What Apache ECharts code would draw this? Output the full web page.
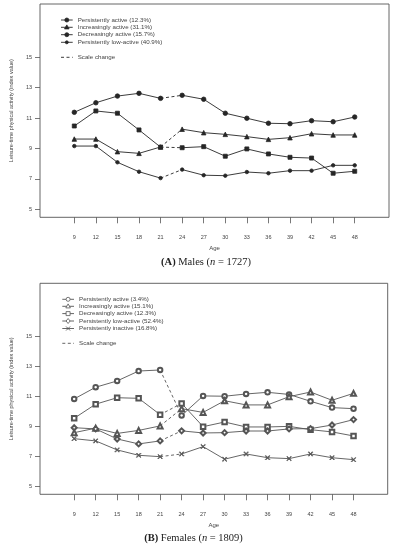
<!DOCTYPE html>
<html><head><meta charset="utf-8">
<script src="https://cdn.jsdelivr.net/npm/echarts@6/dist/echarts.min.js"></script>
<style>html,body{margin:0;padding:0;background:#fff}#c{width:395px;height:550px}</style>
</head><body><div id="c"></div>
<script>
const ages = [9,12,15,18,21,24,27,30,33,36,39,42,45,48];
const yTicks = [5,7,9,11,13,15];

const maleNames = ['Persistently active (12.3%)','Increasingly active (31.1%)','Decreasingly active (15.7%)','Persistently low-active (40.9%)'];
const malePersActive = [11.38,12.01,12.45,12.63,12.30,12.50,12.24,11.32,10.99,10.66,10.63,10.83,10.76,11.07];
const maleIncActive  = [9.62,9.62,8.79,8.68,9.10,10.27,10.04,9.93,9.78,9.60,9.71,9.97,9.89,9.89];
const maleDecActive  = [10.48,11.47,11.32,10.22,9.09,9.05,9.12,8.49,8.97,8.64,8.42,8.37,7.37,7.50];
const maleLowActive  = [9.16,9.16,8.09,7.47,7.05,7.61,7.24,7.21,7.45,7.37,7.54,7.54,7.89,7.89];

const femaleNames = ['Persistently active (3.4%)','Increasingly active (15.1%)','Decreasingly active (12.3%)','Persistently low-active (52.4%)','Persistently inactive (16.8%)'];
const femPersActive = [10.85,11.63,12.05,12.71,12.78,9.75,11.05,11.03,11.18,11.29,11.15,10.69,10.27,10.20];
const femIncActive  = [8.60,8.90,8.55,8.75,9.05,10.20,9.95,10.73,10.45,10.45,11.00,11.31,10.76,11.22];
const femDecActive  = [9.56,10.50,10.93,10.89,9.80,10.55,9.00,9.31,8.98,8.98,9.02,8.80,8.65,8.38];
const femLowActive  = [8.93,8.85,8.18,7.85,8.05,8.72,8.58,8.60,8.71,8.71,8.85,8.87,9.11,9.47];
const femInactive   = [8.20,8.05,7.45,7.09,7.00,7.18,7.67,6.83,7.18,6.93,6.87,7.18,6.93,6.80];

const xSym = 'path://M0,1L1,0L5,4L9,0L10,1L6,5L10,9L9,10L5,6L1,10L0,9L4,5Z';

const chart = echarts.init(document.getElementById('c'), null, {renderer:'canvas'});

function makeSeries(gi, name, vals, symbol, size, color, lw) {
  const pts = ages.map((a,i)=>[a, vals[i]]);
  const base = {type:'line', xAxisIndex:gi, yAxisIndex:gi, animation:false, silent:true,
    lineStyle:{color:color, width:lw}, itemStyle:{color:color, borderColor:color, borderWidth:0.8}};
  return [
    Object.assign({}, base, {name:name, data:pts.slice(0,5), symbol:symbol, symbolSize:size}),
    Object.assign({}, base, {name:name+' (scale change)', data:pts.slice(4,6), symbol:'none',
      lineStyle:{color:color, width:lw, type:[3,2.5]}}),
    Object.assign({}, base, {name:name, data:pts.slice(5), symbol:symbol, symbolSize:size})
  ];
}

const mColor = '#262626';
const fColor = '#555';
const maleSpecs = [[malePersActive,'circle',4.5],[maleIncActive,'triangle',4.5],[maleDecActive,'rect',4],[maleLowActive,'circle',3.5]];
const femSpecs = [[femPersActive,'emptyCircle',4.5],[femIncActive,'emptyTriangle',5],[femDecActive,'emptyRect',4.5],[femLowActive,'emptyDiamond',5],[femInactive,xSym,4.5]];

let series = [];
maleSpecs.forEach((s,i)=>{ series = series.concat(makeSeries(0, maleNames[i], s[0], s[1], s[2], mColor, 0.9)); });
femSpecs.forEach((s,i)=>{ series = series.concat(makeSeries(1, femaleNames[i], s[0], s[1], s[2], fColor, 0.9)); });

const labelFont = {fontFamily:'Liberation Sans, Arial, sans-serif', fontSize:5.5, color:'#444'};

function xAxis(gi){
  return {type:'value', gridIndex:gi, min:4.23, max:52.77, splitLine:{show:false},
    axisLine:{show:false}, axisTick:{show:true, length:6, customValues:ages, lineStyle:{color:'#555', width:0.8}},
    axisLabel:Object.assign({customValues:ages, margin:17}, labelFont),
    name:'Age', nameLocation:'middle', nameGap:28, nameTextStyle:Object.assign({}, labelFont, {fontSize:6})};
}
function yAxis(gi, mn, mx){
  return {type:'value', gridIndex:gi, min:mn, max:mx, splitLine:{show:false},
    axisLine:{show:false}, axisTick:{show:true, length:5, customValues:yTicks, lineStyle:{color:'#555', width:0.8}},
    axisLabel:Object.assign({customValues:yTicks, margin:8}, labelFont),
    name:'Leisure-time physical activity (index value)', nameLocation:'middle', nameGap:26, nameRotate:90,
    nameTextStyle:Object.assign({}, labelFont, {fontSize:5.5})};
}

const legFont = '6.2px Liberation Sans, Arial, sans-serif';
function legendGraphics(x0, x1, tx, rows, names, color, scaleY){
  const g = [];
  rows.forEach((y,i)=>{
    g.push({type:'line', shape:{x1:x0,y1:y,x2:x1,y2:y}, style:{stroke:color, lineWidth:0.9}});
    g.push({type:'text', x:tx, y:y, style:{text:names[i], fill:'#444', font:legFont, textVerticalAlign:'middle'}});
  });
  g.push({type:'line', shape:{x1:x0,y1:scaleY,x2:x1,y2:scaleY}, style:{stroke:color, lineWidth:0.9, lineDash:[3,2.5]}});
  g.push({type:'text', x:tx, y:scaleY, style:{text:'Scale change', fill:'#444', font:legFont, textVerticalAlign:'middle'}});
  return g;
}

const mRows = [20,27.3,34.7,42.3];
const fRows = [299.3,306.3,313.6,321,328.5];

function markerGraphic(kind, cx, cy, color, filled){
  const fill = filled ? color : '#fff';
  const st = {fill:fill, stroke:color, lineWidth:0.8};
  if (kind==='circle') return {type:'circle', shape:{cx:cx,cy:cy,r:2}, style:st};
  if (kind==='smallcircle') return {type:'circle', shape:{cx:cx,cy:cy,r:1.5}, style:st};
  if (kind==='triangle') return {type:'polygon', shape:{points:[[cx,cy-2.4],[cx+2.3,cy+1.6],[cx-2.3,cy+1.6]]}, style:st};
  if (kind==='rect') return {type:'rect', shape:{x:cx-2,y:cy-2,width:4,height:4}, style:st};
  if (kind==='diamond') return {type:'polygon', shape:{points:[[cx,cy-2.5],[cx+2,cy],[cx,cy+2.5],[cx-2,cy]]}, style:st};
  if (kind==='x') return {type:'group', children:[
    {type:'line', shape:{x1:cx-2,y1:cy-2,x2:cx+2,y2:cy+2}, style:{stroke:color,lineWidth:0.9}},
    {type:'line', shape:{x1:cx-2,y1:cy+2,x2:cx+2,y2:cy-2}, style:{stroke:color,lineWidth:0.9}}]};
}

let graphic = [];
graphic = graphic.concat(legendGraphics(61, 72.7, 77.7, mRows, maleNames, mColor, 57.3));
['circle','triangle','circle','smallcircle'].forEach((k,i)=>graphic.push(markerGraphic(k, 66.8, mRows[i], mColor, true)));
graphic = graphic.concat(legendGraphics(62.3, 74, 79, fRows, femaleNames, fColor, 343.3));
['circle','triangle','rect','diamond','x'].forEach((k,i)=>graphic.push(markerGraphic(k, 68.1, fRows[i], fColor, false)));

const capRich = {b:{fontWeight:'bold', fontFamily:'Liberation Serif, serif', fontSize:10.5, fill:'#222'},
        n:{fontFamily:'Liberation Serif, serif', fontSize:10.5, fill:'#222'},
        i:{fontStyle:'italic', fontFamily:'Liberation Serif, serif', fontSize:10.5, fill:'#222'}};
graphic.push({type:'text', x:206, y:262, style:{rich:capRich,
  text:'{b|(A)}{n| Males (}{i|n}{n| = 1727)}', textAlign:'center', textVerticalAlign:'middle'}});
graphic.push({type:'text', x:193.5, y:538.5, style:{rich:capRich,
  text:'{b|(B)}{n| Females (}{i|n}{n| = 1809)}', textAlign:'center', textVerticalAlign:'middle'}});

chart.setOption({
  animation:false,
  backgroundColor:'#fff',
  grid:[
    {left:36, top:4, width:353, height:213.3, show:true, borderColor:'#555', borderWidth:0.9, containLabel:false},
    {left:37.3, top:283.3, width:350.4, height:211, show:true, borderColor:'#555', borderWidth:0.9, containLabel:false}
  ],
  xAxis:[xAxis(0), xAxis(1)],
  yAxis:[yAxis(0, 4.47, 18.51), yAxis(1, 4.49, 18.56)],
  series:series,
  graphic:graphic
});
</script></body></html>
